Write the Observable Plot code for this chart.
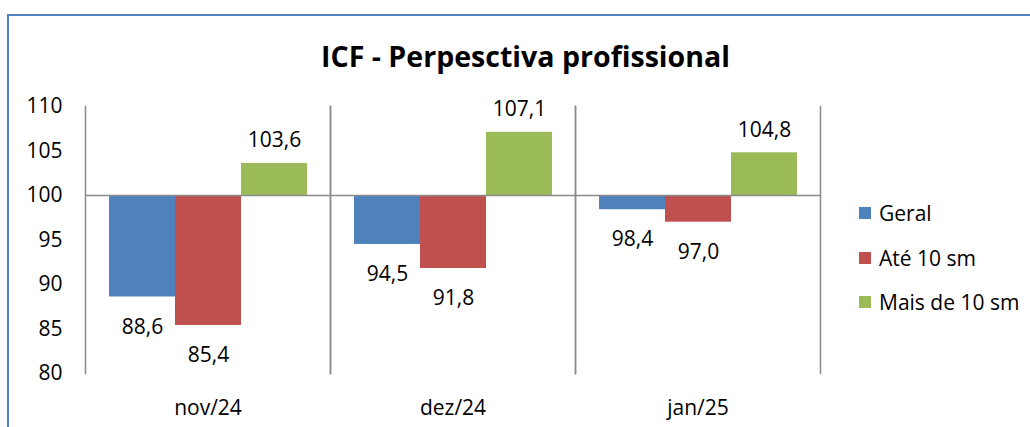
<!DOCTYPE html>
<html><head><meta charset="utf-8">
<script src="https://cdn.jsdelivr.net/npm/d3@7"></script>
<script src="https://cdn.jsdelivr.net/npm/@observablehq/plot@0.6"></script>
<style>
html,body{margin:0;padding:0;background:#fff;overflow:hidden;}
#wrap{position:relative;width:1030px;height:427px;overflow:hidden;font-family:"Open Sans",sans-serif;}
#border{position:absolute;left:7px;top:14px;width:1100px;height:500px;border:2px solid #4F81BD;box-sizing:border-box;}
#chart{position:absolute;left:0;top:0;}
#overlay{position:absolute;left:0;top:0;}
</style></head><body>
<div id="wrap"><div id="border"></div><div id="chart"></div><svg id="overlay" width="1030" height="427"></svg></div>
<script>
const categories = ["nov/24", "dez/24", "jan/25"];
const series = ["Geral", "Até 10 sm", "Mais de 10 sm"];
const geral = [88.6, 94.5, 98.4];
const ate10 = [85.4, 91.8, 97.0];
const mais10 = [103.6, 107.1, 104.8];
const yTicks = [80, 85, 90, 95, 100, 105, 110];
const colors = ["#4F81BD", "#C0504D", "#9BBB59"];
const title = "ICF - Perpesctiva profissional";
const baseline = 100;

const data = [];
categories.forEach((c, i) => {
  [geral, ate10, mais10].forEach((arr, j) => data.push({category: c, series: series[j], value: arr[i]}));
});
const fmt = v => v.toFixed(1).replace(".", ",");
const grid = "#8a8a8a";

const chart = Plot.plot({
  width: 1030, height: 427, marginLeft: 85, marginRight: 210, marginTop: 106, marginBottom: 54,
  style: {fontFamily: '"Open Sans", sans-serif', fontSize: "21px", color: "#000", background: "transparent"},
  facet: {data, x: "category", label: null},
  fx: {domain: categories, padding: 0, tickSize: 0, tickPadding: 27, label: null},
  x: {domain: series, paddingInner: 0, paddingOuter: 0.355, axis: null},
  y: {domain: [80, 110], ticks: yTicks, tickSize: 0, tickPadding: 23, label: null, tickFormat: d => String(d)},
  color: {domain: series, range: colors},
  marks: [
    Plot.frame({anchor: "left", stroke: grid, strokeWidth: 1.5}),
    Plot.frame({anchor: "right", stroke: grid, strokeWidth: 1.5}),
    Plot.barY(data, {x: "series", y1: baseline, y2: "value", fill: "series", inset: 0}),
    Plot.ruleY([baseline], {stroke: grid, strokeWidth: 1.5}),
    Plot.text(data, {filter: d => d.value < baseline, x: "series", y: "value", text: d => fmt(d.value), dy: 30, fill: "#000"}),
    Plot.text(data, {filter: d => d.value >= baseline, x: "series", y: "value", text: d => fmt(d.value), dy: -23, fill: "#000"})
  ]
});
document.getElementById("chart").appendChild(chart);

// Title and legend overlay
const ov = d3.select("#overlay");
const t = ov.append("text").attr("x", 525.5).attr("y", 67).attr("text-anchor", "middle")
  .attr("font-family", '"Open Sans", sans-serif').attr("font-weight", "bold").attr("font-size", 29)
  .attr("fill", "#000").text(title);
const tw = t.node().getComputedTextLength();
if (tw > 409) t.attr("textLength", 409).attr("lengthAdjust", "spacingAndGlyphs");

const legendY = [213, 258, 302];
series.forEach((s, i) => {
  ov.append("rect").attr("x", 859).attr("y", legendY[i] - 6).attr("width", 12).attr("height", 12).attr("fill", colors[i]);
  ov.append("text").attr("x", 879).attr("y", legendY[i] + 7.5)
    .attr("font-family", '"Open Sans", sans-serif').attr("font-size", 21).attr("fill", "#000").text(s);
});
</script>
</body></html>
